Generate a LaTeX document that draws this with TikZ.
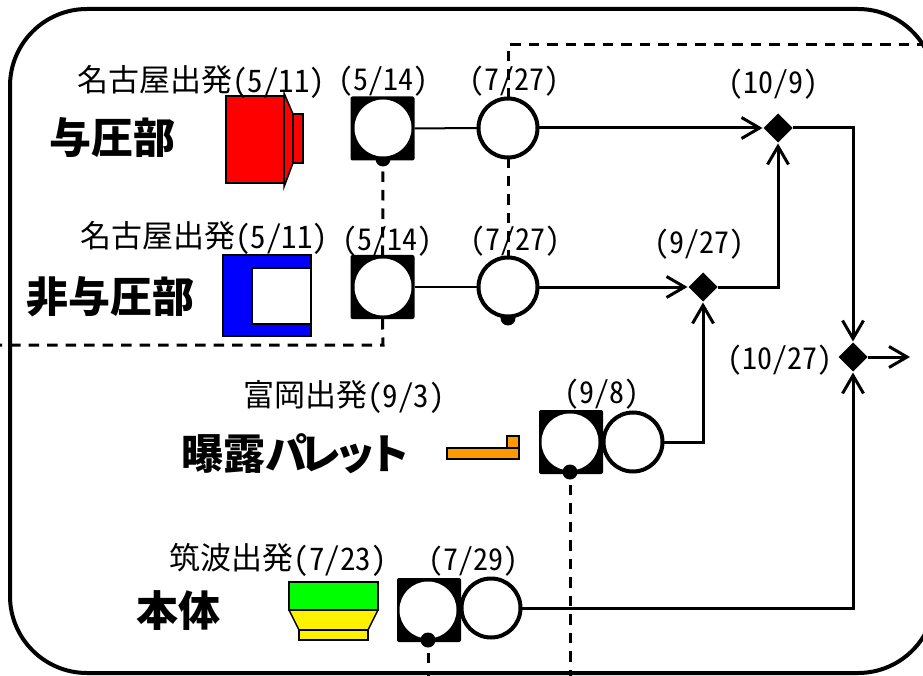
\documentclass[tikz,border=0pt]{standalone}
\usepackage{fontspec}
\newfontfamily\jpfont[RawFeature=+hwid]{Noto Sans CJK JP}
\newcommand\lowT[1]{\raisebox{-1.5pt}{#1}}
\usetikzlibrary{arrows.meta,shapes.geometric}
\definecolor{palletOrange}{RGB}{255,153,0}
\tikzstyle{edge}=[line width=2pt]
\tikzstyle{edgeArrow}=[line width=3pt, shorten >=1pt, -{Straight Barb[length=18pt,width=21pt,line width=3pt]}]
\tikzstyle{edgeDotted}=[line width=3pt, dash pattern=on 10.5pt off 8pt]
\tikzstyle{frameLine}=[line width=4pt, rounded corners=77pt]
\tikzstyle{partLine}=[line width=1.5pt, line join=miter]
\tikzstyle{blackS}=[rectangle, fill=black, minimum size=64pt, rounded corners=2pt, inner sep=0pt, outer sep=0pt]
\tikzstyle{innerV}=[circle, fill=white, minimum size=57pt, inner sep=0pt, outer sep=0pt]
\tikzstyle{outerV}=[circle, fill=white, draw, line width=4pt, minimum size=59pt, inner sep=0pt, outer sep=0pt]
\tikzstyle{dotV}=[circle, fill=black, minimum size=15pt, inner sep=0pt, outer sep=0pt]
\tikzstyle{blackD}=[diamond, fill=black, minimum size=29pt, inner sep=0pt, outer sep=0pt]
\tikzstyle{dateT}=[inner sep=0pt, font={\jpfont\fontsize{30}{30}\selectfont}]
\tikzstyle{fromT}=[inner sep=0pt, font={\jpfont\fontsize{31}{31}\selectfont}]
\tikzstyle{nameT}=[inner sep=0pt, font={\jpfont\bfseries\fontsize{42}{42}\selectfont}]
\begin{document}
\begin{tikzpicture}[x=1pt, y=-1pt]
      \useasboundingbox (0,0) rectangle (923,676);
      \clip (0,0) rectangle (923,676);
      \draw[frameLine] (10,9) rectangle (935,673);

      \draw[partLine, fill=red] (226,96) rectangle (284,183);
      \draw[partLine, fill=red] (284,93) -- (293,114) -- (293,163) -- (284,187) -- cycle;
      \draw[partLine, fill=red] (293,114) rectangle (303,163);
      \draw[partLine, fill=blue] (223,255) rectangle (311,336);
      \draw[partLine, fill=white] (311,268) -- (252,268) -- (252,324) -- (311,324) -- cycle;
      \draw[partLine, fill=palletOrange] (447,448) rectangle (519,459);
      \draw[partLine, fill=palletOrange] (507,436) rectangle (519,448);
      \draw[partLine, fill=green] (289,582) rectangle (378,610);
      \draw[partLine, fill=yellow] (289,610) -- (378,610) -- (368,630) -- (299,630) -- cycle;
      \draw[partLine, fill=yellow] (299,630) rectangle (368,640);

      \node(sqA) [blackS] at (382.5,128.5){};
      \node(sqB) [blackS] at (382.5,287){};
      \node(sqC) [blackS] at (571,442){};
      \node(sqD) [blackS] at (429,610){};
      \node(dotA) [dotV] at (383,159){};
      \node(dotB) [dotV] at (508,318){};
      \node(inA) [innerV] at (383,128){};
      \node(inB) [innerV] at (383,287){};
      \node(inC) [innerV] at (570,442){};
      \node(inD) [innerV] at (428,610){};
      \node(dotC) [dotV] at (570,472){};
      \node(dotD) [dotV] at (428,640){};
      \node(outA) [outerV] at (508,128){};
      \node(outB) [outerV] at (508,287){};
      \node(outC) [outerV] at (633,442){};
      \node(outD) [outerV] at (491,608){};
      \node(diaA) [blackD] at (778,128){};
      \node(diaB) [blackD] at (703,287){};
      \node(diaC) [blackD] at (853,357){};
      \coordinate(leftEnd) at (0,345);
      \coordinate(leftBend) at (383,345);
      \coordinate(topEnd) at (923,45);
      \coordinate(topBend) at (508,45);
      \coordinate(downC) at (570,676);
      \coordinate(downD) at (428,676);
      \coordinate(outEnd) at (911,357);

      \draw[edge] (sqA) to (outA);
      \draw[edge] (sqB) to (outB);
      \draw[edgeArrow] (outA) to (diaA);
      \draw[edgeArrow] (outB) to (diaB);
      \draw[edgeArrow] (diaB.east) -| (diaA);
      \draw[edgeArrow] (diaA.east) -| (diaC);
      \draw[edgeArrow] (outC.east) -| (diaB);
      \draw[edgeArrow] (outD.east) -| (diaC);
      \draw[edgeArrow] (diaC) to (outEnd);
      \draw[edgeDotted, shorten <=5pt] (dotA) to (sqB);
      \draw[edgeDotted] (sqB.south) -- (leftBend) -- (leftEnd);
      \draw[edgeDotted] (outA.south) to (outB.north);
      \draw[edgeDotted] (outA.north) -- (topBend) -- (topEnd);
      \draw[edgeDotted, shorten <=5pt] (dotC) to (downC);
      \draw[edgeDotted, shorten <=5pt] (dotD) to (downD);

      \node(txtA) [fromT] at (201,82){名古屋出発\lowT{(5/11)}};
      \node(txtB) [dateT] at (383,81){(5/14)};
      \node(txtC) [dateT] at (514,81){(7/27)};
      \node(txtD) [fromT] at (204,238){名古屋出発\lowT{(5/11)}};
      \node(txtE) [dateT] at (387,241){(5/14)};
      \node(txtF) [dateT] at (515,241){(7/27)};
      \node(txtG) [dateT] at (773,84){(10/9)};
      \node(txtH) [dateT] at (699,244){(9/27)};
      \node(txtI) [dateT] at (780,360){(10/27)};
      \node(txtJ) [fromT] at (344,397){富岡出発\lowT{(9/3)}};
      \node(txtK) [dateT] at (602,394){(9/8)};
      \node(txtL) [fromT] at (278,560){筑波出発\lowT{(7/23)}};
      \node(txtM) [dateT] at (473,561){(7/29)};
      \node(nameA) [nameT] at (112,138){与圧部};
      \node(nameB) [nameT] at (110,297){非与圧部};
      \node(nameC) [nameT] at (296,454){曝露{\addfontfeature{LetterSpace=-18}パレット}};
      \node(nameD) [nameT] at (178,611){本体};
    \end{tikzpicture}
\end{document}
